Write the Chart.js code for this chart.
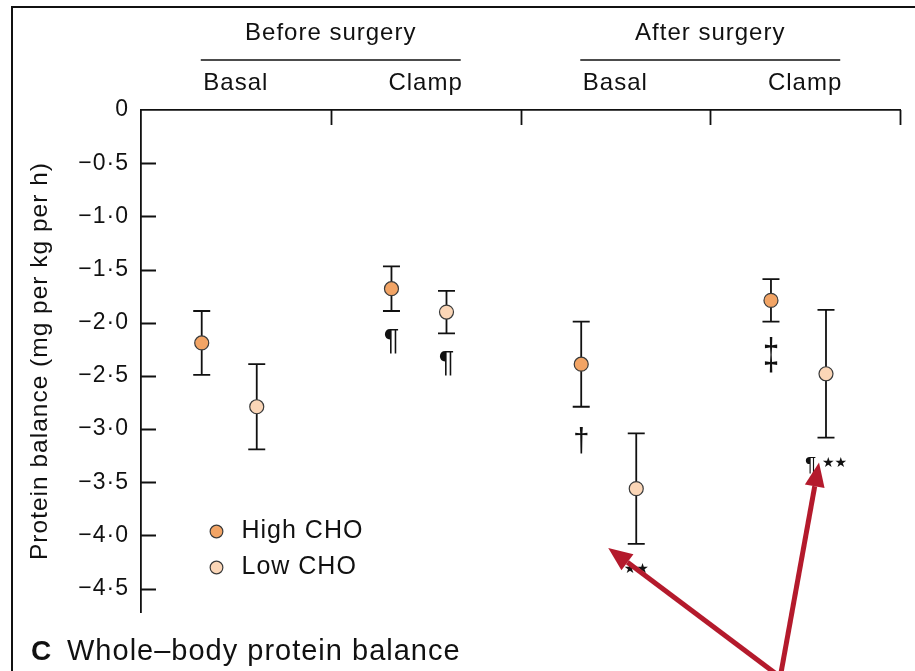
<!DOCTYPE html>
<html>
<head>
<meta charset="utf-8">
<script src="https://cdn.jsdelivr.net/npm/chart.js@4.4.1/dist/chart.umd.min.js"></script>
<style>
  html, body { margin: 0; padding: 0; background: #fff; }
  #wrap { width: 915px; height: 671px; }
</style>
</head>
<body>
<div id="wrap"><canvas id="chart" width="915" height="671"></canvas></div>
<script>
// Whole-body protein balance, mean ± SEM (mg per kg per h)
const periods = ['Before surgery', 'After surgery'];
const phases = ['Basal', 'Clamp', 'Basal', 'Clamp'];
const seriesNames = ['High CHO', 'Low CHO'];
const highMean = [-2.19, -1.68, -2.39, -1.79];
const highSem = [0.30, 0.21, 0.40, 0.20];
const lowMean = [-2.79, -1.90, -3.56, -2.48];
const lowSem = [0.40, 0.20, 0.52, 0.60];
const highMarks = ['', '¶', '†', '‡'];
const lowMarks = ['', '¶', '**', '¶**'];
const yTickValues = [0, -0.5, -1.0, -1.5, -2.0, -2.5, -3.0, -3.5, -4.0, -4.5];

const FONT = '"Liberation Sans", Arial, Helvetica, sans-serif';
const INK = '#111111';
const HIGH_FILL = '#F2A465';
const LOW_FILL = '#FBD6B7';
const ARROW = '#B41A2C';
const HIGH_POS = 0.32;   // position of the High CHO mark inside its column
const LOW_POS = 0.61;    // position of the Low CHO mark inside its column

function fmtTick(v) {
  if (v === 0) return '0';
  return (v < 0 ? '\u2212' : '') + Math.abs(v).toFixed(1).replace('.', '\u00B7');
}

const points = (means, pos) => means.map((m, i) => ({ x: i + pos, y: m }));

// white page with the panel frame on the left and top; slightly open lettering
const framePlugin = {
  id: 'frame',
  beforeDraw(chart) {
    const ctx = chart.ctx;
    ctx.save();
    ctx.fillStyle = '#fff';
    ctx.fillRect(0, 0, chart.width, chart.height);
    ctx.strokeStyle = '#111';
    ctx.lineWidth = 2;
    ctx.beginPath();
    ctx.moveTo(12, chart.height);
    ctx.lineTo(12, 7);
    ctx.lineTo(chart.width, 7);
    ctx.stroke();
    ctx.restore();
    ctx.letterSpacing = '1px';
  }
};

// legend sits inside the plot, lower left
const legendPlace = {
  id: 'legendPlace',
  afterLayout(chart) {
    const lg = chart.legend, a = chart.chartArea;
    if (!lg) return;
    const w = lg.width, h = lg.height;
    lg.left = a.left + 52;
    lg.top = a.top + 398;
    lg.right = lg.left + w;
    lg.bottom = lg.top + h;
  }
};

// error bars behind the markers
const errorBars = {
  id: 'errorBars',
  beforeDatasetsDraw(chart) {
    const ctx = chart.ctx, xs = chart.scales.x, ys = chart.scales.y;
    ctx.save();
    ctx.strokeStyle = INK;
    ctx.lineWidth = 1.8;
    const draw = (means, sems, pos) => {
      means.forEach((m, i) => {
        const px = xs.getPixelForValue(i + pos);
        const yt = ys.getPixelForValue(m + sems[i]);
        const yb = ys.getPixelForValue(m - sems[i]);
        ctx.beginPath();
        ctx.moveTo(px, yt); ctx.lineTo(px, yb);
        ctx.moveTo(px - 8.5, yt); ctx.lineTo(px + 8.5, yt);
        ctx.moveTo(px - 8.5, yb); ctx.lineTo(px + 8.5, yb);
        ctx.stroke();
      });
    };
    draw(highMean, highSem, HIGH_POS);
    draw(lowMean, lowSem, LOW_POS);
    ctx.restore();
  }
};

// significance symbols below the error bars
const sigMarks = {
  id: 'sigMarks',
  afterDatasetsDraw(chart) {
    const ctx = chart.ctx, xs = chart.scales.x, ys = chart.scales.y;
    ctx.save();
    ctx.fillStyle = INK;
    ctx.textBaseline = 'alphabetic';
    ctx.letterSpacing = '0px';
    const draw = (marks, means, sems, pos) => {
      marks.forEach((mk, i) => {
        if (!mk) return;
        const px = xs.getPixelForValue(i + pos);
        const yb = ys.getPixelForValue(means[i] - sems[i]);
        const stars = (mk.match(/\*/g) || []).length;
        const sym = mk.replace(/\*/g, '');
        if (!stars) {
          // daggers are drawn a little taller than the font gives them
          const size = 29;
          const stretch = sym === '‡' ? 1.5 : (sym === '†' ? 1.15 : 1.0);
          const gap = sym === '‡' ? 16 : (sym === '†' ? 20 : 17);
          ctx.font = size + 'px ' + FONT;
          ctx.textAlign = 'center';
          ctx.save();
          ctx.translate(px, yb + gap);
          ctx.scale(1, stretch);
          ctx.fillText(sym, 0, size * 0.72);
          ctx.restore();
          return;
        }
        // small pilcrow followed by star glyphs
        const symFont = '21px ' + FONT;
        const starFont = '14px "DejaVu Sans", sans-serif';
        const starTxt = '\u2605'.repeat(stars);
        ctx.font = symFont;
        const w1 = sym ? ctx.measureText(sym + ' ').width : 0;
        ctx.font = starFont;
        const w2 = ctx.measureText(starTxt).width;
        const x0 = px - (w1 + w2) / 2;
        const top = yb + 18;
        ctx.textAlign = 'left';
        if (sym) {
          ctx.font = symFont;
          ctx.fillText(sym, x0, top + 21 * 0.72);
        }
        ctx.font = starFont;
        ctx.fillText(starTxt, x0 + w1, top + 11);
      });
    };
    draw(highMarks, highMean, highSem, HIGH_POS);
    draw(lowMarks, lowMean, lowSem, LOW_POS);
    ctx.restore();
  }
};

// inward tick marks, period headers, caption and call-out arrows
const decorations = {
  id: 'decorations',
  afterDraw(chart) {
    const ctx = chart.ctx, a = chart.chartArea;
    const xs = chart.scales.x, ys = chart.scales.y;
    ctx.save();
    ctx.strokeStyle = INK;
    ctx.lineWidth = 1.8;
    ctx.beginPath();
    ys.ticks.forEach(t => {
      if (t.value === 0) return;
      const py = Math.round(ys.getPixelForValue(t.value)) + 0.5;
      ctx.moveTo(a.left, py); ctx.lineTo(a.left + 15, py);
    });
    for (let i = 1; i <= phases.length; i++) {
      const px = Math.round(xs.getPixelForValue(i)) + 0.5;
      ctx.moveTo(px, a.top); ctx.lineTo(px, a.top + 15);
    }
    ctx.stroke();

    // period headers with rules underneath
    ctx.fillStyle = INK;
    ctx.font = '24px ' + FONT;
    ctx.letterSpacing = '1px';
    ctx.textAlign = 'center';
    ctx.textBaseline = 'middle';
    ctx.lineWidth = 1.6;
    periods.forEach((p, k) => {
      const c = xs.getPixelForValue(2 * k + 1);
      ctx.fillText(p, c, a.top - 77);
      ctx.beginPath();
      ctx.moveTo(xs.getPixelForValue(2 * k + 1 - 0.685), a.top - 50);
      ctx.lineTo(xs.getPixelForValue(2 * k + 1 + 0.685), a.top - 50);
      ctx.stroke();
    });

    // panel caption
    ctx.textAlign = 'left';
    ctx.textBaseline = 'alphabetic';
    ctx.font = 'bold 28px ' + FONT;
    ctx.fillText('C', 31, 660);
    ctx.font = '29px ' + FONT;
    ctx.fillText('Whole\u2013body protein balance', 67, 660);

    // call-out arrows
    const tail = { x: xs.getPixelForValue(3) + 70, y: chart.height + 6 };
    const tips = [
      { x: xs.getPixelForValue(2 + LOW_POS) - 28, y: ys.getPixelForValue(lowMean[2] - lowSem[2]) + 4 },
      { x: xs.getPixelForValue(3 + LOW_POS) - 7, y: ys.getPixelForValue(lowMean[3] - lowSem[3]) + 25 }
    ];
    ctx.strokeStyle = ARROW;
    ctx.fillStyle = ARROW;
    ctx.lineWidth = 5;
    ctx.lineCap = 'butt';
    tips.forEach(tp => {
      const ang = Math.atan2(tp.y - tail.y, tp.x - tail.x);
      const hl = 24, hw = 10;
      const bx = tp.x - hl * Math.cos(ang), by = tp.y - hl * Math.sin(ang);
      ctx.beginPath();
      ctx.moveTo(tail.x, tail.y);
      ctx.lineTo(bx, by);
      ctx.stroke();
      ctx.beginPath();
      ctx.moveTo(tp.x, tp.y);
      ctx.lineTo(bx + hw * Math.sin(ang), by - hw * Math.cos(ang));
      ctx.lineTo(bx - hw * Math.sin(ang), by + hw * Math.cos(ang));
      ctx.closePath();
      ctx.fill();
    });
    ctx.restore();
  }
};

new Chart(document.getElementById('chart'), {
  type: 'scatter',
  data: {
    datasets: [
      {
        label: seriesNames[0],
        data: points(highMean, HIGH_POS),
        pointRadius: 7,
        pointHoverRadius: 7,
        pointBackgroundColor: HIGH_FILL,
        pointBorderColor: '#3a3a3a',
        pointBorderWidth: 1.2,
        showLine: false
      },
      {
        label: seriesNames[1],
        data: points(lowMean, LOW_POS),
        pointRadius: 7,
        pointHoverRadius: 7,
        pointBackgroundColor: LOW_FILL,
        pointBorderColor: '#3a3a3a',
        pointBorderWidth: 1.2,
        showLine: false
      }
    ]
  },
  options: {
    responsive: false,
    animation: false,
    devicePixelRatio: 1,
    layout: { padding: { left: 26, right: 15, top: 0, bottom: 59 } },
    plugins: {
      tooltip: { enabled: false },
      title: { display: false },
      legend: {
        display: true,
        position: 'chartArea',
        align: 'start',
        labels: {
          usePointStyle: true,
          boxWidth: 25,
          boxHeight: 9,
          padding: 11,
          color: INK,
          font: { family: FONT, size: 25 }
        }
      }
    },
    scales: {
      x: { type: 'linear', min: 0, max: phases.length, display: false },
      xTop: {
        type: 'category',
        labels: phases,
        position: 'top',
        offset: true,
        grid: { display: false, drawTicks: false },
        border: { display: true, color: INK, width: 1.8 },
        ticks: { color: INK, padding: 12, font: { family: FONT, size: 24 } },
        afterFit(s) { s.height = 110; }
      },
      y: {
        type: 'linear',
        min: -4.72,
        max: 0,
        afterBuildTicks(s) { s.ticks = yTickValues.map(v => ({ value: v })); },
        grid: { display: false, drawTicks: false },
        border: { display: true, color: INK, width: 1.8 },
        ticks: {
          color: INK,
          padding: 12,
          font: { family: FONT, size: 23 },
          callback: (v) => fmtTick(v)
        },
        title: {
          display: true,
          text: 'Protein balance (mg per kg per h)',
          color: INK,
          padding: 0,
          font: { family: FONT, size: 24.5 }
        },
        afterFit(s) { s.width = 115; }
      }
    }
  },
  plugins: [framePlugin, legendPlace, errorBars, sigMarks, decorations]
});
</script>
</body>
</html>
